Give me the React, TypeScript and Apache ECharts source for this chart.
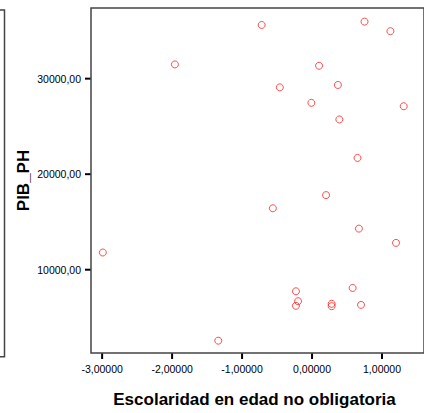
import React, { useEffect, useRef } from "react";
import * as echarts from "echarts";

const xTickValues = [-3, -2, -1, 0, 1];
const yTickValues = [10000, 20000, 30000];

const escolaridad = [
  -2.99, -1.96, -0.72, -1.34, -0.56, -0.46, -0.01, 0.1, 0.2, 0.37, 0.39, 0.65,
  0.67, 0.75, 1.12, 1.2, 1.31, -0.23, -0.2, -0.23, 0.28, 0.28, 0.58, 0.7,
];
const pibPh = [
  11800, 31490, 35620, 2570, 16430, 29090, 27470, 31350, 17810, 29340, 25730,
  21700, 14300, 35970, 34970, 12810, 27110, 7740, 6700, 6220, 6430, 6180, 8090,
  6320,
];

const xTitle = "Escolaridad en edad no obligatoria";
const yTitle = "PIB_PH";

const FONT = "'Liberation Sans', Arial, Helvetica, sans-serif";

const X_MIN = -3.159;
const X_MAX = 1.6;
const Y_MIN = 1281;
const Y_MAX = 37396;

export default function App() {
  const ref = useRef<HTMLDivElement>(null);

  useEffect(() => {
    if (!ref.current) return;
    const chart = echarts.init(ref.current, null, { renderer: "svg" });
    const points = escolaridad.map((x, i) => [x, pibPh[i]]);
    chart.setOption({
      animation: false,
      backgroundColor: "#ffffff",
      grid: {
        left: 91,
        top: 8,
        width: 349.3,
        height: 346.7,
        show: true,
        borderColor: "#444444",
        borderWidth: 1.5,
        backgroundColor: "transparent",
      },
      xAxis: {
        type: "value",
        min: X_MIN,
        max: X_MAX,
        name: xTitle,
        nameLocation: "middle",
        nameGap: 38,
        nameMoveOverlap: false,
        nameTextStyle: {
          fontFamily: FONT,
          fontSize: 17,
          fontWeight: "bold",
          color: "#000000",
          padding: [0, 6, 0, 0],
        },
        axisLine: { show: false, onZero: false },
        splitLine: { show: false },
        axisTick: { show: false },
        axisLabel: {
          customValues: xTickValues,
          margin: 10,
          fontFamily: FONT,
          fontSize: 10.5,
          color: "#000000",
          formatter: (v: number) => v.toFixed(5).replace(".", ","),
        },
      },
      yAxis: {
        type: "value",
        min: Y_MIN,
        max: Y_MAX,
        name: yTitle,
        nameLocation: "middle",
        nameGap: 59,
        nameMoveOverlap: false,
        nameTextStyle: {
          fontFamily: FONT,
          fontSize: 17,
          fontWeight: "bold",
          color: "#000000",
        },
        axisLine: { show: false, onZero: false },
        splitLine: { show: false },
        axisTick: { show: false },
        axisLabel: {
          customValues: yTickValues,
          margin: 10,
          fontFamily: FONT,
          fontSize: 10.5,
          color: "#000000",
          formatter: (v: number) => v.toFixed(2).replace(".", ","),
        },
      },
      series: [
        {
          type: "scatter",
          data: points,
          symbol: "circle",
          symbolSize: 7,
          itemStyle: {
            color: "rgba(0,0,0,0)",
            borderColor: "#ff2020",
            borderWidth: 1,
          },
        },
      ],
    });

    const tickEls: any[] = [];
    xTickValues.forEach((v) => {
      const p = chart.convertToPixel({ gridIndex: 0 }, [v, Y_MIN]) as number[];
      tickEls.push({
        type: "rect",
        shape: { x: p[0] - 1, y: p[1] + 0.5, width: 2, height: 5.5 },
        style: { fill: "#000000" },
        silent: true,
        z: 50,
      });
    });
    yTickValues.forEach((v) => {
      const p = chart.convertToPixel({ gridIndex: 0 }, [X_MIN, v]) as number[];
      tickEls.push({
        type: "rect",
        shape: { x: p[0] - 6, y: p[1] - 1, width: 5.5, height: 2 },
        style: { fill: "#000000" },
        silent: true,
        z: 50,
      });
    });

    chart.setOption({
      graphic: [
        {
          type: "rect",
          shape: { x: -10, y: 10, width: 14.5, height: 346.7 },
          style: { fill: "none", stroke: "#444444", lineWidth: 1.5 },
          silent: true,
        },
        ...tickEls,
      ],
    });
    return () => chart.dispose();
  }, []);

  return (
    <div
      ref={ref}
      style={{ position: "absolute", left: 0, top: 0, width: 424, height: 413 }}
    />
  );
}
